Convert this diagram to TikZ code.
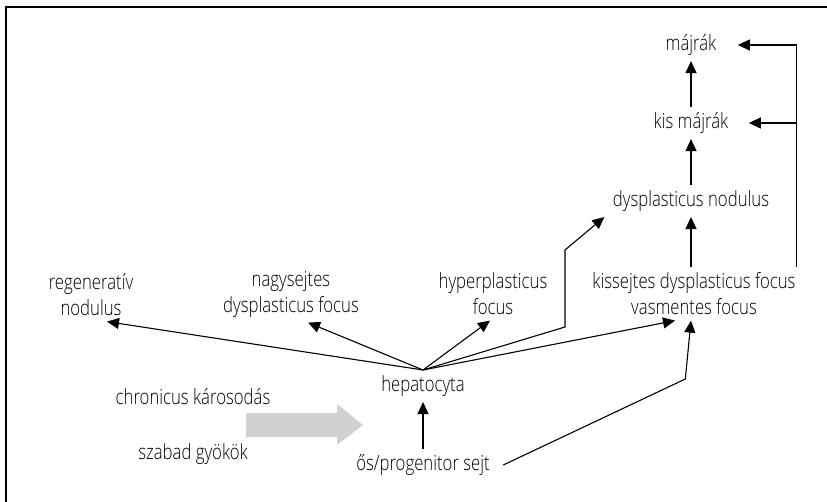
\documentclass[tikz,border=0pt]{standalone}
\usepackage{fontspec}
\setmainfont{Open Sans}[UprightFont=* Light,FakeStretch=0.8]
\usetikzlibrary{arrows.meta,positioning}

\begin{document}
\begin{tikzpicture}[x=1bp,y=-1bp,->,>={Triangle[length=12bp,width=11bp]},line width=1.1bp,node distance=78bp,
    lbl/.style={align=center,font=\fontsize{21}{26}\selectfont,inner xsep=8bp,inner ysep=5bp}]
    \useasboundingbox (0,0) rectangle (827,502);
    \draw[-,line width=1.5bp] (827,7) -- (6,7) -- (6,502);
    \node[lbl] (majrak) at (691,45) {májrák};
    \node[lbl] (kismajrak) [below of=majrak] {kis májrák};
    \node[lbl] (dysnod) [below of=kismajrak] {dysplasticus nodulus};
    \node[lbl] (kissejtes) at (694,294) {kissejtes dysplasticus focus\\vasmentes focus};
    \node[lbl] (hyper) at (493,294) {hyperplasticus\\focus};
    \node[lbl] (nagy) at (291,294) {nagysejtes\\dysplasticus focus};
    \node[lbl] (regen) at (91,295) {regeneratív\\nodulus};
    \node[lbl] (hepato) at (423,386) {hepatocyta};
    \node[lbl] (progen) [below of=hepato,node distance=79bp] {ős/progenitor sejt};
    \node[lbl] (chron) at (193,397) {chronicus károsodás};
    \node[lbl] (szabad) at (193,454) {szabad gyökök};
    % szurke nyil
    \fill[black!18] (246,413) -- (337,413) -- (337,404) -- (363,425) -- (337,445) -- (337,437) -- (246,437) -- cycle;
    \path
        (kismajrak.north) edge (majrak.south)
        (dysnod.north) edge (kismajrak.south)
        (kissejtes.north -| dysnod.south) edge (dysnod.south)
        (hepato.north) edge ([xshift=16bp]regen.south)
                       edge ([xshift=17bp]nagy.south)
                       edge ([xshift=-3bp]hyper.south)
                       edge ([xshift=-19bp]kissejtes.south)
        (progen.north) edge (hepato.south)
    ;
    \draw (hepato.north) -- ++(142,-43) -- ++(0,-77) -- (dysnod.south west);
    \draw ([xshift=5bp]progen.east) -- ++(182,-86) -- (kissejtes.south -| dysnod.south);
    \coordinate (rail) at ([xshift=-8bp]kissejtes.north east);
    \draw (rail) |- ([xshift=13bp]majrak.east);
    \draw (rail |- kismajrak.east) -- ([xshift=12bp]kismajrak.east);
\end{tikzpicture}
\end{document}
